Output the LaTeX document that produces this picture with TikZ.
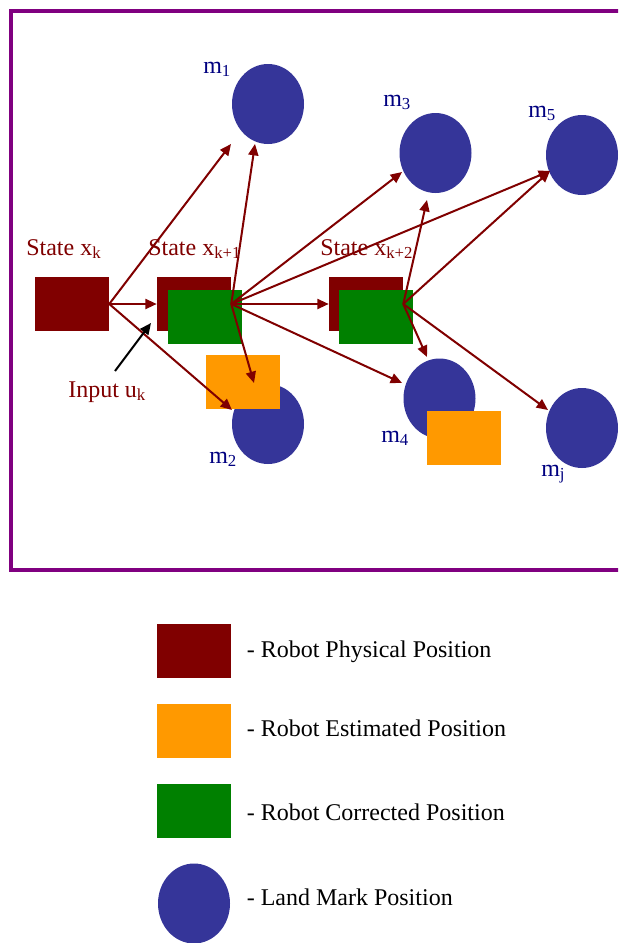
\documentclass[tikz,border=0pt]{standalone}
\usepackage{fontspec}
\setmainfont{Liberation Serif}
\usetikzlibrary{shapes.geometric,arrows.meta}
\definecolor{dred}{HTML}{800000}
\definecolor{orng}{HTML}{FF9900}
\definecolor{grn}{HTML}{008000}
\definecolor{lblue}{HTML}{353599}
\definecolor{navy}{HTML}{000080}
\definecolor{purp}{HTML}{800080}
\begin{document}
\begin{tikzpicture}[x=0.75pt,y=-0.75pt,
  rbox/.style={rectangle, minimum width=55.5pt, minimum height=40.5pt, inner sep=0pt},
  lmark/.style={ellipse, fill=lblue, minimum width=54pt, minimum height=60pt, inner sep=0pt},
  arr/.style={draw=dred, line width=1.5pt, -{Triangle[length=8.5pt,width=7.5pt]}},
  blkarr/.style={draw=black, line width=1.5pt, -{Triangle[length=8.5pt,width=7.5pt]}},
  lbl/.style={font=\fontsize{18}{21}\selectfont, inner sep=0pt, anchor=base west},
  statelbl/.style={lbl, text=dred},
  mlbl/.style={lbl, text=navy}]
\clip (0,0) rectangle (618,943);
\fill[white] (0,0) rectangle (618,943);
% frame
\draw[purp, line width=3pt] (10.5,10.5) rectangle (650,570);
% landmarks
\node[lmark] (m1) at (268,104) {};
\node[lmark] (m2) at (268,424) {};
\node[lmark] (m3) at (435.5,153) {};
\node[lmark] (m4) at (439.5,398.5) {};
\node[lmark] (m5) at (582,155) {};
\node[lmark] (mj) at (582,428) {};
% robot states
\node[rbox, fill=dred] (xk) at (72,304) {};
\node[rbox, fill=dred] (xk1) at (194,304) {};
\node[rbox, fill=grn] (g1) at (205,317) {};
\node[rbox, fill=orng] (o1) at (243,382) {};
\node[rbox, fill=dred] (xk2) at (366,304) {};
\node[rbox, fill=grn] (g2) at (376,317) {};
\node[rbox, fill=orng] (o2) at (464,438) {};
% labels
\node[statelbl] (sk) at (26,255) {State x\textsubscript{k}};
\node[statelbl] (sk1) at (148,255) {State x\textsubscript{k+1}};
\node[statelbl] (sk2) at (320,255) {State x\textsubscript{k+2}};
\node[statelbl] (inp) at (68,397) {Input u\textsubscript{k}};
\node[mlbl] (lm1) at (203,73) {m\textsubscript{1}};
\node[mlbl] (lm2) at (209,463) {m\textsubscript{2}};
\node[mlbl] (lm3) at (383,106) {m\textsubscript{3}};
\node[mlbl] (lm4) at (381,442) {m\textsubscript{4}};
\node[mlbl] (lm5) at (528,117) {m\textsubscript{5}};
\node[mlbl] (lmj) at (541,476) {m\textsubscript{j}};
% arrow targets
\coordinate (m1a) at (231,144);
\coordinate (m1b) at (255,144);
\coordinate (m2a) at (232,410);
\coordinate (m3a) at (402,172);
\coordinate (m3b) at (427,200);
\coordinate (m5a) at (550,171);
\coordinate (m4a) at (402,383);
\coordinate (m4b) at (427,357);
\coordinate (mja) at (548,410);
\coordinate (o1a) at (254,383);
\coordinate (inS) at (115,371);
\coordinate (inT) at (151,323);
% arrows from x_k
\draw[arr] (xk.east) -- (m1a);
\draw[arr] (xk.east) -- (xk1.west);
\draw[arr] (xk.east) -- (m2a);
% arrows from x_{k+1}
\draw[arr] (xk1.east) -- (m1b);
\draw[arr] (xk1.east) -- (m3a);
\draw[arr] (xk1.east) -- (m5a);
\draw[arr] (xk1.east) -- (xk2.west);
\draw[arr] (xk1.east) -- (m4a);
\draw[arr] (xk1.east) -- (o1a);
% arrows from x_{k+2}
\draw[arr] (xk2.east) -- (m3b);
\draw[arr] (xk2.east) -- (m5a);
\draw[arr] (xk2.east) -- (m4b);
\draw[arr] (xk2.east) -- (mja);
% input arrow
\draw[blkarr] (inS) -- (inT);
% legend
\node[rbox, fill=dred] (L1) at (194,651) {};
\node[rbox, fill=orng] (L2) at (194,731) {};
\node[rbox, fill=grn] (L3) at (194,811) {};
\node[lmark] (L4) at (194,903.5) {};
\node[lbl] (T1) at (246.5,657) {- Robot Physical Position};
\node[lbl] (T2) at (246.5,736) {- Robot Estimated Position};
\node[lbl] (T3) at (246.5,820.5) {- Robot Corrected Position};
\node[lbl] (T4) at (246.5,905) {- Land Mark Position};
\end{tikzpicture}
\end{document}
